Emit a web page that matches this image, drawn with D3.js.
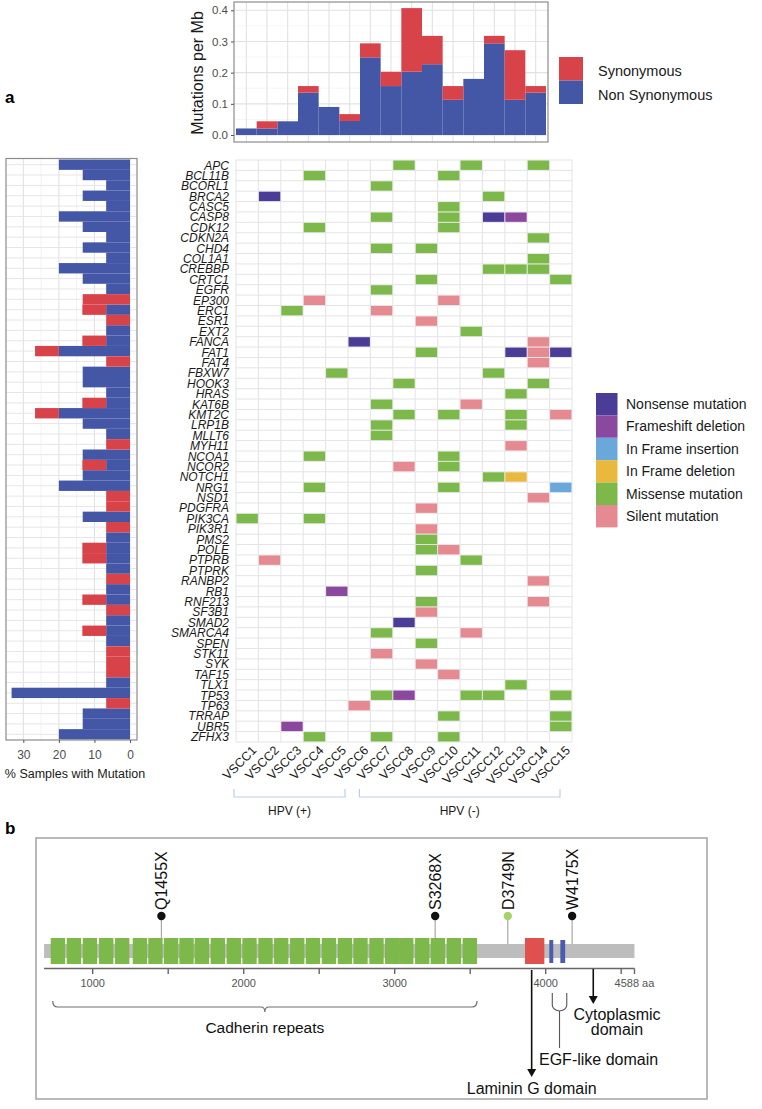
<!DOCTYPE html>
<html><head><meta charset="utf-8">
<script src="https://cdn.jsdelivr.net/npm/d3@7"></script>
<style>body{margin:0;background:#fff} svg{display:block} text{font-family:"Liberation Sans",Arial,sans-serif}</style>
</head><body><svg id="c" width="762" height="1109"></svg>
<script>
// ---------------- DATA ----------------
const samples = ["VSCC1","VSCC2","VSCC3","VSCC4","VSCC5","VSCC6","VSCC7","VSCC8","VSCC9","VSCC10","VSCC11","VSCC12","VSCC13","VSCC14","VSCC15"];
const nonSynPerMb = [0.021,0.021,0.044,0.136,0.090,0.045,0.249,0.157,0.203,0.227,0.113,0.180,0.294,0.113,0.136];
const synPerMb    = [0.000,0.023,0.000,0.021,0.000,0.022,0.045,0.046,0.204,0.091,0.044,0.000,0.024,0.159,0.021];
const topTicks = [0.0,0.1,0.2,0.3,0.4];
const burdenSeries = ["Synonymous","Non Synonymous"];

const genes = ["APC","BCL11B","BCORL1","BRCA2","CASC5","CASP8","CDK12","CDKN2A","CHD4","COL1A1","CREBBP","CRTC1","EGFR","EP300","ERC1","ESR1","EXT2","FANCA","FAT1","FAT4","FBXW7","HOOK3","HRAS","KAT6B","KMT2C","LRP1B","MLLT6","MYH11","NCOA1","NCOR2","NOTCH1","NRG1","NSD1","PDGFRA","PIK3CA","PIK3R1","PMS2","POLE","PTPRB","PTPRK","RANBP2","RB1","RNF213","SF3B1","SMAD2","SMARCA4","SPEN","STK11","SYK","TAF15","TLX1","TP53","TP63","TRRAP","UBR5","ZFHX3"];
// one string per gene, one character per sample (VSCC1..VSCC15); "." = no mutation
const mutationMatrix = [
".......M..M..M.","...M.....M.....","......M........",".N.........M...",".........M.....",
"......M..M.NF..","...M.....M.....",".............M.","......M.M......",".............M.",
"...........MMM.","........M.....M","......M........","...S.....S.....","..M...S........",
"........S......","..........M....",".....N.......S.","........M...NSN",".............S.",
"....M......M...",".......M.....M.","............M..","......M...S....",".......M.M..M.S",
"......M.....M..","......M........","............S..","...M.....M.....",".......S.M.....",
"...........MD..","...M.....M....I",".............S.","........S......","M..M...........",
"........S......","........M......","........MS.....",".S........M....","........M......",
".............S.","....F..........","........M....S.","........S......",".......N.......",
"......M...S....","........M......","......S........","........S......",".........S.....",
"............M..","......MF..MM..M",".....S.........",".........M....M","..F...........M",
"...M..M..M....."];
const mutationCodes  = ["N","F","I","D","M","S"];
const mutationLabels = ["Nonsense mutation","Frameshift deletion","In Frame insertion","In Frame deletion","Missense mutation","Silent mutation"];

// % samples with mutation (left panel)
const pctNonSyn = [20,13.3,6.7,13.3,6.7,20,13.3,6.7,13.3,6.7,20,13.3,6.7,0,6.7,0,6.7,6.7,20,0,13.3,13.3,6.7,6.7,20,13.3,6.7,0,13.3,6.7,13.3,20,0,0,13.3,0,6.7,6.7,6.7,6.7,0,6.7,6.7,0,6.7,6.7,6.7,0,0,0,6.7,33.3,0,13.3,13.3,20];
const pctSyn    = [0,0,0,0,0,0,0,0,0,0,0,0,0,13.3,6.7,6.7,0,6.7,6.7,6.7,0,0,0,6.7,6.7,0,0,6.7,0,6.7,0,0,6.7,6.7,0,6.7,0,6.7,6.7,0,6.7,0,6.7,6.7,0,6.7,0,6.7,6.7,6.7,0,0,6.7,0,0,0];
const leftTicks = [30,20,10,0];

const hpvGroups = [{label:"HPV (+)", first:"VSCC1", last:"VSCC5"},{label:"HPV (-)", first:"VSCC7", last:"VSCC15"}];

// FAT1 protein (panel b)
const proteinLength = 4588;
const shownStart = 678;
const cadherinStarts = [722,828,934,1042,1148,1265,1368,1472,1574,1675,1781,1887,1991,2097,2201,2307,2411,2517,2623,2726,2832,2936,3029,3135,3238,3344,3450];
const cadherinLength = 95;
const lamininG = [3863,3991];
const egfDomains = [[4024,4050],[4097,4129]];
const cytoplasmicStart = 4315;
const proteinTicks = [1000,1500,2000,2500,3000,3500,4000,4500,4588];
const proteinTickLabels = [1000,2000,3000,4000];
const fat1Mutations = [
  {label:"Q1455X", pos:1455, kind:"nonsense"},
  {label:"S3268X", pos:3268, kind:"nonsense"},
  {label:"D3749N", pos:3749, kind:"missense"},
  {label:"W4175X", pos:4175, kind:"nonsense"}];

// ---------------- STYLE ----------------
const mutColors = {N:"#4b3d97",F:"#8b489f",I:"#6aa8dc",D:"#e8b93c",M:"#7cb84a",S:"#e48a90"};
const synColor = "#d8434a", nonSynColor = "#4456a6";
const bracketPad = [[-2,-3],[-11,-12]];

const svg = d3.select("#c");

// ---------------- TOP PANEL ----------------
const xTop = d3.scaleBand().domain(samples).range([236,546]);
const yTop = d3.scaleLinear().domain([-0.0224,0.4266]).range([142,2]);
const gTop = svg.append("g");
gTop.append("rect").attr("x",234).attr("y",2).attr("width",314).attr("height",140).attr("fill","#fff");
const minorTop = topTicks.slice(0,-1).map(t=>t+0.05);
gTop.selectAll(".mn").data(minorTop).join("line").attr("x1",234).attr("x2",548)
  .attr("y1",d=>yTop(d)).attr("y2",d=>yTop(d)).attr("stroke","#f0f0f0").attr("stroke-width",0.7);
gTop.selectAll(".mj").data(topTicks).join("line").attr("x1",234).attr("x2",548)
  .attr("y1",d=>yTop(d)).attr("y2",d=>yTop(d)).attr("stroke","#e2e2e2").attr("stroke-width",1.1);
gTop.selectAll(".vx").data(samples).join("line").attr("y1",2).attr("y2",142)
  .attr("x1",d=>xTop(d)+xTop.bandwidth()/2).attr("x2",d=>xTop(d)+xTop.bandwidth()/2).attr("stroke","#e2e2e2").attr("stroke-width",1.1);
gTop.selectAll(".nb").data(samples).join("rect").attr("x",d=>xTop(d)).attr("width",xTop.bandwidth())
  .attr("y",(d,i)=>yTop(nonSynPerMb[i])).attr("height",(d,i)=>yTop(0)-yTop(nonSynPerMb[i])).attr("fill",nonSynColor);
gTop.selectAll(".sb").data(samples).join("rect").attr("x",d=>xTop(d)).attr("width",xTop.bandwidth())
  .attr("y",(d,i)=>yTop(nonSynPerMb[i]+synPerMb[i])).attr("height",(d,i)=>yTop(nonSynPerMb[i])-yTop(nonSynPerMb[i]+synPerMb[i])).attr("fill",synColor);
gTop.append("rect").attr("x",234).attr("y",2).attr("width",314).attr("height",140).attr("fill","none").attr("stroke","#8c8c8c").attr("stroke-width",1.2);
const yAx = d3.axisLeft(yTop).tickValues(topTicks).tickFormat(d3.format(".1f")).tickSize(3);
const ya = gTop.append("g").attr("transform","translate(234,0)").call(yAx);
ya.select(".domain").remove();
ya.selectAll("text").attr("font-size",11.5).attr("fill","#4d4d4d").attr("font-family","Liberation Sans");
ya.selectAll("line").attr("stroke","#555");
gTop.append("text").attr("transform","translate(203,73) rotate(-90)").attr("text-anchor","middle")
  .attr("font-size",16).attr("fill","#1a1a1a").text("Mutations per Mb");
// legend
const legTop = svg.append("g");
burdenSeries.forEach((s,i)=>{
  legTop.append("rect").attr("x",559).attr("y",57+i*23.5).attr("width",24).attr("height",23.5).attr("fill",i===0?synColor:nonSynColor);
  legTop.append("text").attr("x",598).attr("y",71+i*23.5).attr("dy","0.35em").attr("font-size",14.5).attr("fill","#1a1a1a").text(s);
});
svg.append("text").attr("x",5).attr("y",103).attr("font-size",17).attr("font-weight","bold").text("a");

// ---------------- HEATMAP ----------------
const xHeat = d3.scaleBand().domain(samples).range([236,572]);
const yHeat = d3.scaleBand().domain(genes).range([160,742]);
const gH = svg.append("g");
const hb = d3.range(samples.length+1).map(i=>236+i*xHeat.bandwidth());
const vb = d3.range(genes.length+1).map(i=>160+i*yHeat.bandwidth());
gH.selectAll(".hv").data(hb).join("line").attr("x1",d=>d).attr("x2",d=>d).attr("y1",160).attr("y2",742).attr("stroke","#e4e4e6").attr("stroke-width",1);
gH.selectAll(".hh").data(vb).join("line").attr("y1",d=>d).attr("y2",d=>d).attr("x1",236).attr("x2",572).attr("stroke","#e4e4e6").attr("stroke-width",1);
const cells = [];
mutationMatrix.forEach((row,gi)=>{ row.split("").forEach((c,si)=>{ if(c!==".") cells.push({g:genes[gi],s:samples[si],c}); }); });
gH.selectAll(".cell").data(cells).join("rect")
  .attr("x",d=>xHeat(d.s)+0.5).attr("y",d=>yHeat(d.g)+0.5)
  .attr("width",xHeat.bandwidth()-1).attr("height",yHeat.bandwidth()-1).attr("fill",d=>mutColors[d.c]);
gH.selectAll(".gl").data(genes).join("text").attr("x",229).attr("y",d=>yHeat(d)+yHeat.bandwidth()/2)
  .attr("dy","0.36em").attr("text-anchor","end").attr("font-size",12).attr("font-style","italic").attr("fill","#1a1a1a").text(d=>d);
gH.selectAll(".sl").data(samples).join("text")
  .attr("transform",d=>`translate(${xHeat(d)+xHeat.bandwidth()/2+7},748) rotate(-45)`)
  .attr("text-anchor","end").attr("dy","0.35em").attr("font-size",12.5).attr("fill","#1a1a1a").text(d=>d);
// HPV brackets
hpvGroups.forEach((g,k)=>{
  const x1 = xHeat(g.first)+bracketPad[k][0], x2 = xHeat(g.last)+xHeat.bandwidth()+bracketPad[k][1];
  gH.append("path").attr("d",`M${x1},789 L${x1},797 L${x2},797 L${x2},789`).attr("fill","none").attr("stroke","#b9cfe8").attr("stroke-width",1.2);
  gH.append("text").attr("x",(x1+x2)/2).attr("y",815).attr("text-anchor","middle").attr("font-size",12).attr("fill","#1a1a1a").text(g.label);
});
// mutation legend
const legM = svg.append("g");
mutationCodes.forEach((c,i)=>{
  legM.append("rect").attr("x",596).attr("y",393+i*22.4).attr("width",21.5).attr("height",22.4).attr("fill",mutColors[c]);
  legM.append("text").attr("x",626).attr("y",404+i*22.4).attr("dy","0.35em").attr("font-size",14).attr("fill","#1a1a1a").text(mutationLabels[i]);
});

// ---------------- LEFT PANEL ----------------
const xLeft = d3.scaleLinear().domain([-1.97,34.87]).range([137,6]);
const yLeft = d3.scaleBand().domain(genes).range([159.5,739.5]);
const gL = svg.append("g");
gL.append("rect").attr("x",6).attr("y",158.5).attr("width",131).attr("height",581.5).attr("fill","#fff");
gL.selectAll(".lmn").data([5,15,25]).join("line").attr("x1",d=>xLeft(d)).attr("x2",d=>xLeft(d)).attr("y1",158.5).attr("y2",740).attr("stroke","#efefef").attr("stroke-width",0.8);
gL.selectAll(".lmj").data(leftTicks).join("line").attr("x1",d=>xLeft(d)).attr("x2",d=>xLeft(d)).attr("y1",158.5).attr("y2",740).attr("stroke","#e2e2e2").attr("stroke-width",1.1);
gL.selectAll(".lh").data(genes).join("line").attr("y1",d=>yLeft(d)+yLeft.bandwidth()/2).attr("y2",d=>yLeft(d)+yLeft.bandwidth()/2).attr("x1",6).attr("x2",137).attr("stroke","#e6e6e6").attr("stroke-width",1);
gL.selectAll(".lb").data(genes).join("rect").attr("y",d=>yLeft(d)).attr("height",yLeft.bandwidth())
  .attr("x",(d,i)=>xLeft(pctNonSyn[i])).attr("width",(d,i)=>xLeft(0)-xLeft(pctNonSyn[i])).attr("fill",nonSynColor);
gL.selectAll(".lr").data(genes).join("rect").attr("y",d=>yLeft(d)).attr("height",yLeft.bandwidth())
  .attr("x",(d,i)=>xLeft(pctNonSyn[i]+pctSyn[i])).attr("width",(d,i)=>xLeft(pctNonSyn[i])-xLeft(pctNonSyn[i]+pctSyn[i])).attr("fill",synColor);
gL.append("rect").attr("x",6).attr("y",158.5).attr("width",131).attr("height",581.5).attr("fill","none").attr("stroke","#8c8c8c").attr("stroke-width",1.2);
const lAx = gL.append("g").attr("transform","translate(0,740)").call(d3.axisBottom(xLeft).tickValues(leftTicks).tickSize(3));
lAx.select(".domain").remove();
lAx.selectAll("text").attr("font-size",12).attr("fill","#4d4d4d").attr("font-family","Liberation Sans").attr("dy","1.1em");
lAx.selectAll("line").attr("stroke","#555");
gL.append("text").attr("x",75).attr("y",778).attr("text-anchor","middle").attr("font-size",12.5).attr("fill","#1a1a1a").text("% Samples with Mutation");

// ---------------- PANEL b ----------------
svg.append("text").attr("x",5).attr("y",834).attr("font-size",17).attr("font-weight","bold").text("b");
const gB = svg.append("g");
gB.append("rect").attr("x",36).attr("y",838).attr("width",671).attr("height",261).attr("fill","none").attr("stroke","#a9a9a9").attr("stroke-width",1.6);
const xP = d3.scaleLinear().domain([1000,4000]).range([92.7,545.7]);
// backbone
gB.append("rect").attr("x",xP(shownStart)).attr("y",944).attr("width",xP(proteinLength)-xP(shownStart)).attr("height",14).attr("fill","#bdbdbd");
// lollipop stems
gB.selectAll(".stem").data(fat1Mutations).join("line").attr("x1",d=>xP(d.pos)).attr("x2",d=>xP(d.pos)).attr("y1",916).attr("y2",944).attr("stroke","#a8a8a8").attr("stroke-width",1.2);
// cadherin repeats
gB.selectAll(".cad").data(cadherinStarts).join("rect").attr("x",d=>xP(d)).attr("width",d=>xP(d+cadherinLength)-xP(d))
  .attr("y",938).attr("height",26).attr("fill","#7cb84a");
gB.append("rect").attr("x",xP(lamininG[0])).attr("width",xP(lamininG[1])-xP(lamininG[0])).attr("y",938).attr("height",26).attr("fill","#e0504f");
gB.selectAll(".egf").data(egfDomains).join("rect").attr("x",d=>xP(d[0])).attr("width",d=>xP(d[1])-xP(d[0]))
  .attr("y",940).attr("height",23).attr("fill","#4a5bb0");
// lollipop heads + labels
gB.selectAll(".head").data(fat1Mutations).join("circle").attr("cx",d=>xP(d.pos)).attr("cy",916).attr("r",4.2)
  .attr("fill",d=>d.kind==="missense"?"#a6d46c":"#111");
gB.selectAll(".ml").data(fat1Mutations).join("text").attr("transform",d=>`translate(${xP(d.pos)+6},910) rotate(-90)`)
  .attr("font-size",16).attr("fill","#111").text(d=>d.label);
// axis
gB.append("line").attr("x1",xP(shownStart)).attr("x2",xP(proteinLength)).attr("y1",968.5).attr("y2",968.5).attr("stroke","#666").attr("stroke-width",1.6);
gB.selectAll(".pt").data(proteinTicks).join("line").attr("x1",d=>xP(d)).attr("x2",d=>xP(d)).attr("y1",968.5).attr("y2",974).attr("stroke","#666").attr("stroke-width",1.4);
gB.selectAll(".ptl").data(proteinTickLabels).join("text").attr("x",d=>xP(d)).attr("y",987).attr("text-anchor","middle")
  .attr("font-family","DejaVu Sans").attr("font-size",11).attr("fill","#555").text(d=>d);
gB.append("text").attr("x",xP(proteinLength)).attr("y",987).attr("text-anchor","middle").attr("font-family","DejaVu Sans").attr("font-size",11).attr("fill","#555").text(proteinLength+" aa");
// cadherin bracket
const cx1 = xP(cadherinStarts[0])+2, cx2 = xP(cadherinStarts[cadherinStarts.length-1]+cadherinLength), cxm = (cx1+cx2)/2;
gB.append("path").attr("d",`M${cx1},1001 Q${cx1},1007 ${cx1+5},1007 L${cxm-4},1007 Q${cxm},1007 ${cxm},1012 Q${cxm},1007 ${cxm+4},1007 L${cx2-5},1007 Q${cx2},1007 ${cx2},1001`)
  .attr("fill","none").attr("stroke","#6e6e6e").attr("stroke-width",1.2);
gB.append("text").attr("x",cxm).attr("y",1033).attr("text-anchor","middle").attr("font-size",15.5).attr("fill","#111").text("Cadherin repeats");
// arrows
const arrow = (x,y1,y2)=>{
  gB.append("line").attr("x1",x).attr("x2",x).attr("y1",y1).attr("y2",y2-6).attr("stroke","#111").attr("stroke-width",1.6);
  gB.append("path").attr("d",`M${x-4.5},${y2-8} L${x+4.5},${y2-8} L${x},${y2} Z`).attr("fill","#111");
};
const lamX = xP(3907);
arrow(lamX,970,1077);
gB.append("text").attr("x",lamX).attr("y",1094).attr("text-anchor","middle").attr("font-size",16).attr("fill","#111").text("Laminin G domain");
const cytX = xP(cytoplasmicStart);
arrow(cytX,969,1004);
gB.append("text").attr("x",617).attr("y",1020).attr("text-anchor","middle").attr("font-size",16).attr("fill","#111").text("Cytoplasmic");
gB.append("text").attr("x",617).attr("y",1035).attr("text-anchor","middle").attr("font-size",16).attr("fill","#111").text("domain");
// EGF bracket
const e1 = xP((egfDomains[0][0]+egfDomains[0][1])/2)+1, e2 = xP((egfDomains[1][0]+egfDomains[1][1])/2)+4, em = (e1+e2)/2;
gB.append("path").attr("d",`M${e1},993 L${e1},1005 Q${e1},1010 ${em},1011 Q${e2},1010 ${e2},1005 L${e2},993 M${em},1011 L${em},1048`)
  .attr("fill","none").attr("stroke","#555").attr("stroke-width",1.1);
gB.append("text").attr("x",539).attr("y",1065).attr("font-size",16).attr("fill","#111").text("EGF-like domain");
</script></body></html>
